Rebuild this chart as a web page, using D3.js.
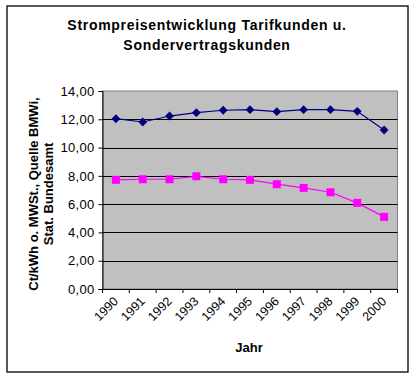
<!DOCTYPE html>
<html>
<head>
<meta charset="utf-8">
<script src="https://cdn.jsdelivr.net/npm/d3@7"></script>
<style>
  body { margin: 0; background: #fff; }
  svg text { font-family: "Liberation Sans", Arial, sans-serif; }
</style>
</head>
<body>
<div id="chart"></div>
<script>
// Jahre und Preise (Ct/kWh)
var years = ["1990", "1991", "1992", "1993", "1994", "1995", "1996", "1997", "1998", "1999", "2000"];
var tarifkunden = [12.04, 11.81, 12.23, 12.47, 12.64, 12.68, 12.54, 12.68, 12.68, 12.56, 11.24];
var sonderkunden = [7.72, 7.76, 7.76, 7.97, 7.76, 7.72, 7.41, 7.15, 6.84, 6.09, 5.10];
var yTicks = [0, 2, 4, 6, 8, 10, 12, 14];

var width = 415, height = 377;
var plot = { left: 102.5, right: 397.5, top: 91, bottom: 289 };

var svg = d3.select("#chart").append("svg")
    .attr("width", width)
    .attr("height", height);

// Rahmen
svg.append("rect")
    .attr("x", 7).attr("y", 6)
    .attr("width", 401).attr("height", 366)
    .attr("fill", "#fff")
    .attr("stroke", "#000")
    .attr("stroke-width", 1.3);

var x = d3.scaleBand()
    .domain(years)
    .range([plot.left, plot.right]);

var y = d3.scaleLinear()
    .domain([0, 14])
    .range([plot.bottom, plot.top]);

// Zeichenfläche
svg.append("rect")
    .attr("x", plot.left).attr("y", plot.top)
    .attr("width", plot.right - plot.left)
    .attr("height", plot.bottom - plot.top)
    .attr("fill", "#c0c0c0")
    .attr("stroke", "#808080")
    .attr("stroke-width", 1);

svg.append("g")
    .selectAll("line")
    .data(yTicks.filter(function (d) { return d > 0 && d < 14; }))
    .enter()
    .append("line")
    .attr("x1", plot.left).attr("x2", plot.right)
    .attr("y1", function (d) { return Math.round(y(d)) + 0.5; })
    .attr("y2", function (d) { return Math.round(y(d)) + 0.5; })
    .attr("stroke", "#000")
    .attr("stroke-width", 1);

// y-Achse
var yAxis = d3.axisLeft(y)
    .tickValues(yTicks)
    .tickSize(4)
    .tickFormat(function (d) { return d3.format(".2f")(d).replace(".", ","); });

var gy = svg.append("g")
    .attr("transform", "translate(" + plot.left + ",0)")
    .call(yAxis);
gy.select(".domain").attr("stroke", "#000");
gy.selectAll("text")
    .attr("font-size", 13)
    .attr("fill", "#000")
    .attr("letter-spacing", 0.3)
    .attr("dx", -1);

// x-Achse
var gx = svg.append("g")
    .attr("transform", "translate(0," + plot.bottom + ")");
gx.append("line")
    .attr("x1", plot.left).attr("x2", plot.right)
    .attr("y1", 0.5).attr("y2", 0.5)
    .attr("stroke", "#000");
gx.selectAll("line.tick")
    .data(years.concat(["end"]))
    .enter()
    .append("line")
    .attr("class", "tick")
    .attr("x1", function (d, i) { return plot.left + i * x.step(); })
    .attr("x2", function (d, i) { return plot.left + i * x.step(); })
    .attr("y1", 0).attr("y2", 4)
    .attr("stroke", "#000");
gx.selectAll("text")
    .data(years)
    .enter()
    .append("text")
    .attr("text-anchor", "end")
    .attr("font-size", 12.5)
    .attr("transform", function (d) {
        return "translate(" + (x(d) + x.bandwidth() / 2 + 3) + ",13) rotate(-45)";
    })
    .text(function (d) { return d; });

// Linien
var line = d3.line()
    .x(function (d, i) { return x(years[i]) + x.bandwidth() / 2; })
    .y(function (d) { return y(d); });

svg.append("path")
    .datum(tarifkunden)
    .attr("d", line)
    .attr("fill", "none")
    .attr("stroke", "#000080")
    .attr("stroke-width", 1.2);

svg.append("path")
    .datum(sonderkunden)
    .attr("d", line)
    .attr("fill", "none")
    .attr("stroke", "#ff00ff")
    .attr("stroke-width", 1.2);

svg.append("g")
    .selectAll("path")
    .data(tarifkunden)
    .enter()
    .append("path")
    .attr("d", d3.symbol().type(d3.symbolDiamond2).size(50))
    .attr("transform", function (d, i) {
        return "translate(" + (x(years[i]) + x.bandwidth() / 2) + "," + y(d) + ")";
    })
    .attr("fill", "#000080");

svg.append("g")
    .selectAll("rect")
    .data(sonderkunden)
    .enter()
    .append("rect")
    .attr("x", function (d, i) { return x(years[i]) + x.bandwidth() / 2 - 4; })
    .attr("y", function (d) { return y(d) - 4; })
    .attr("width", 8).attr("height", 8)
    .attr("fill", "#ff00ff");

// Titel
var title = svg.append("text")
    .attr("text-anchor", "middle")
    .attr("font-size", 14)
    .attr("font-weight", "bold")
    .attr("letter-spacing", 0.7);
title.append("tspan").attr("x", 207).attr("y", 30).text("Strompreisentwicklung Tarifkunden u.");
title.append("tspan").attr("x", 207).attr("y", 50).text("Sondervertragskunden");

// Achsentitel
var ylab = svg.append("text")
    .attr("text-anchor", "middle")
    .attr("font-size", 13)
    .attr("font-weight", "bold")
    .attr("transform", "translate(38,194) rotate(-90)");
ylab.append("tspan").attr("x", 0).attr("y", 0).text("Ct/kWh o. MWSt., Quelle BMWi,");
ylab.append("tspan").attr("x", 0).attr("y", 15).text("Stat. Bundesamt");

svg.append("text")
    .attr("x", 249).attr("y", 352)
    .attr("text-anchor", "middle")
    .attr("font-size", 13)
    .attr("font-weight", "bold")
    .text("Jahr");
</script>
</body>
</html>
